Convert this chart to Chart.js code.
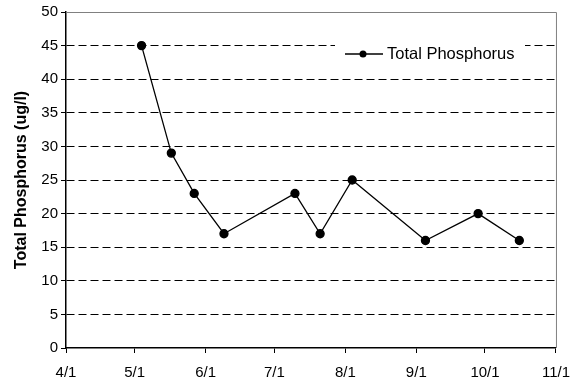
<!DOCTYPE html>
<html lang="en">
<head>
<meta charset="UTF-8">
<title>Total Phosphorus</title>
<script src="https://cdn.jsdelivr.net/npm/chart.js"></script>
<style>
body {
  margin: 0;
  padding: 0;
  background: #fff;
}
.chart-box {
  width: 581px;
  height: 381px;
}
</style>
</head>
<body>
<div class="chart-box">
  <canvas id="tpChart" width="581" height="381"></canvas>
</div>
<script>
// sample dates and values (ug/l)
const sampleDates = ['05-04', '05-17', '05-27', '06-09', '07-10', '07-21', '08-04', '09-05', '09-28', '10-16'];
const phosphorus = [45, 29, 23, 17, 23, 17, 25, 16, 20, 16];

// x axis ticks
const tickDates = ['04-01', '05-01', '06-01', '07-01', '08-01', '09-01', '10-01', '11-01'];
const tickLabels = ['4/1', '5/1', '6/1', '7/1', '8/1', '9/1', '10/1', '11/1'];

const seriesName = 'Total Phosphorus';
const yTitle = 'Total Phosphorus (ug/l)';

// days since 4/1
function dayOf(md) {
  const p = md.split('-');
  return Math.round((Date.UTC(2000, +p[0] - 1, +p[1]) - Date.UTC(2000, 3, 1)) / 86400000);
}
const tickDays = tickDates.map(dayOf);
const points = sampleDates.map((d, i) => ({ x: dayOf(d), y: phosphorus[i] }));

const FONT = "'Liberation Sans', Arial, sans-serif";

// gray frame on top and right of plot area
const framePlugin = {
  id: 'frame',
  beforeDatasetsDraw(chart) {
    const a = chart.chartArea;
    const ctx = chart.ctx;
    ctx.save();
    ctx.strokeStyle = '#808080';
    ctx.lineWidth = 1;
    ctx.beginPath();
    ctx.moveTo(a.left, a.top + 0.5);
    ctx.lineTo(a.right + 0.5, a.top + 0.5);
    ctx.lineTo(a.right + 0.5, a.bottom);
    ctx.stroke();
    ctx.restore();
  }
};

// legend drawn inside the plot
const legendPlugin = {
  id: 'innerLegend',
  afterDatasetsDraw(chart) {
    const ctx = chart.ctx;
    ctx.save();
    ctx.fillStyle = '#fff';
    ctx.fillRect(335, 38, 190, 30);
    ctx.strokeStyle = '#000';
    ctx.lineWidth = 1.3;
    ctx.beginPath();
    ctx.moveTo(345, 54);
    ctx.lineTo(383, 54);
    ctx.stroke();
    ctx.fillStyle = '#000';
    ctx.beginPath();
    ctx.arc(363, 54, 3.5, 0, Math.PI * 2);
    ctx.fill();
    ctx.font = '16.5px ' + FONT;
    ctx.textAlign = 'left';
    ctx.textBaseline = 'middle';
    ctx.fillText(seriesName, 387, 54);
    ctx.restore();
  }
};

new Chart(document.getElementById('tpChart'), {
  type: 'scatter',
  data: {
    datasets: [{
      label: seriesName,
      data: points,
      showLine: true,
      borderColor: '#000',
      borderWidth: 1.3,
      backgroundColor: '#000',
      pointRadius: 4,
      pointHoverRadius: 4,
      tension: 0
    }]
  },
  options: {
    responsive: false,
    animation: false,
    layout: { padding: { top: 9, right: 25, left: 0, bottom: 0 } },
    plugins: {
      legend: { display: false },
      tooltip: { enabled: false }
    },
    scales: {
      x: {
        type: 'linear',
        min: tickDays[0],
        max: tickDays[tickDays.length - 1],
        afterBuildTicks(scale) {
          scale.ticks = tickDays.map(v => ({ value: v }));
        },
        afterFit(scale) { scale.height = 33; },
        ticks: {
          autoSkip: false,
          maxRotation: 0,
          color: '#000',
          padding: 11,
          font: { family: FONT, size: 15 },
          callback: (v) => tickLabels[tickDays.indexOf(v)]
        },
        grid: {
          drawOnChartArea: false,
          drawTicks: true,
          tickLength: 5,
          tickColor: '#000'
        },
        border: { color: '#000', width: 1.5 }
      },
      y: {
        min: 0,
        max: 50,
        afterFit(scale) { scale.width = 66; },
        ticks: {
          stepSize: 5,
          color: '#000',
          padding: 3,
          font: { family: FONT, size: 15 }
        },
        title: {
          display: true,
          text: yTitle,
          color: '#000',
          padding: { top: 12, bottom: 0 },
          font: { family: FONT, size: 16, weight: 'bold' }
        },
        grid: {
          color: (c) => (c.tick && (c.tick.value === 50 || c.tick.value === 0)) ? 'rgba(0,0,0,0)' : '#000',
          tickColor: '#000',
          tickLength: 5,
          lineWidth: 1
        },
        border: { color: '#000', width: 1.5, dash: [8, 4] }
      }
    }
  },
  plugins: [framePlugin, legendPlugin]
});
</script>
</body>
</html>
